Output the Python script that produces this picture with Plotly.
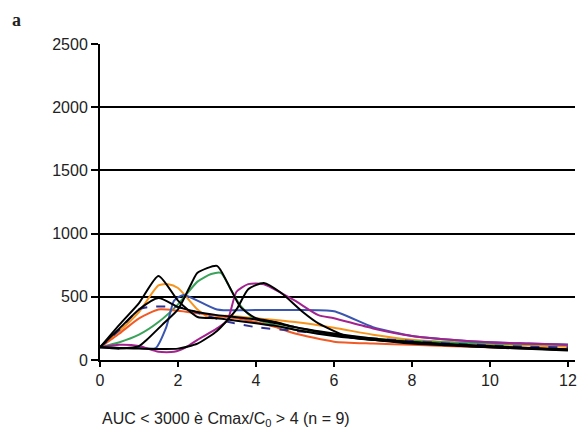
import plotly.graph_objects as go

# ---- data (hours vs concentration) ----
k1_t = [0, 0.5, 1, 1.5, 2, 2.5, 3, 3.5, 4, 4.5, 5, 6, 7, 8, 9, 10, 11, 12]
k1_v = [100, 280, 450, 665, 470, 340, 330, 310, 290, 270, 240, 190, 160, 140, 120, 105, 95, 85]

k2_t = [0, 0.5, 1, 1.5, 2, 2.5, 3, 4, 5, 6, 7, 8, 9, 10, 11, 12]
k2_v = [100, 250, 400, 490, 420, 380, 355, 320, 260, 200, 160, 130, 115, 100, 90, 80]

orange_t = [0, 0.5, 1, 1.5, 1.75, 2, 2.5, 2.85, 3.2, 4, 5, 6, 7, 8, 9, 10, 11, 12]
orange_v = [100, 230, 380, 590, 600, 570, 400, 330, 350, 330, 300, 255, 200, 160, 140, 125, 115, 105]

navy_t = [0, 0.5, 1, 1.3, 2, 2.7, 3.3, 4, 5, 6, 7, 8, 9, 10, 11, 12]
navy_v = [100, 240, 400, 420, 420, 355, 300, 260, 230, 200, 170, 150, 130, 115, 105, 100]

blue_t = [0, 0.5, 1, 1.43, 1.7, 1.9, 2.14, 3, 4, 5, 6, 7, 8, 9, 10, 11, 12]
blue_v = [100, 95, 95, 95, 260, 470, 515, 400, 395, 395, 385, 260, 190, 160, 140, 130, 120]

green_t = [0, 0.5, 1, 1.5, 2, 2.5, 2.85, 3.1, 3.35, 3.6, 3.9, 4.2, 5, 6, 7, 8, 10, 12]
green_v = [100, 140, 200, 300, 440, 620, 680, 690, 560, 430, 340, 300, 240, 200, 170, 150, 130, 120]

k3_t = [0, 0.5, 1, 1.2, 1.6, 2, 2.35, 2.5, 3, 3.27, 3.6, 4, 4.5, 5, 6, 7, 8, 9, 10, 12]
k3_v = [100, 90, 110, 160, 280, 400, 610, 690, 745, 610, 420, 330, 300, 260, 210, 170, 140, 120, 100, 75]

magenta_t = [0, 0.5, 1, 1.5, 1.9, 2.2, 2.5, 3, 3.27, 3.5, 3.8, 4.2, 4.65, 5, 5.6, 6, 7, 8, 9, 10, 11, 12]
magenta_v = [100, 120, 110, 65, 65, 100, 160, 250, 316, 540, 600, 600, 530, 470, 355, 330, 250, 190, 160, 140, 130, 120]

k4_t = [0, 1, 2, 2.5, 3, 3.5, 3.8, 4.2, 4.65, 5.2, 5.6, 6.4, 7, 8, 10, 12]
k4_v = [100, 90, 90, 130, 230, 400, 560, 610, 530, 380, 290, 180, 160, 140, 110, 80]

red_t = [0, 0.5, 1, 1.5, 2, 2.5, 3, 3.5, 4, 4.5, 5, 6, 7, 8, 10, 12]
red_v = [100, 210, 330, 400, 390, 370, 350, 330, 300, 260, 210, 145, 130, 120, 100, 85]

x_ticks = [0, 2, 4, 6, 8, 10, 12]
y_ticks = [0, 500, 1000, 1500, 2000, 2500]

series = [
    (orange_t, orange_v, "#F7941D", "solid"),
    (green_t, green_v, "#3AA35A", "solid"),
    (red_t, red_v, "#F15A24", "solid"),
    (navy_t, navy_v, "#2E3192", "dash"),
    (blue_t, blue_v, "#3A56B0", "solid"),
    (magenta_t, magenta_v, "#A3238E", "solid"),
    (k1_t, k1_v, "#000000", "solid"),
    (k2_t, k2_v, "#000000", "solid"),
    (k3_t, k3_v, "#000000", "solid"),
    (k4_t, k4_v, "#000000", "solid"),
]

fig = go.Figure()
for t, v, c, d in series:
    fig.add_trace(go.Scatter(x=t, y=v, mode="lines",
                             line=dict(color=c, width=2, dash=d, shape="spline", smoothing=0.6),
                             showlegend=False, hoverinfo="skip"))

font_main = dict(family="Liberation Sans, Arial, sans-serif", size=16, color="#222222")

fig.update_layout(
    width=578, height=422,
    margin=dict(l=92, r=9, t=36, b=70),
    paper_bgcolor="white", plot_bgcolor="white",
    font=font_main,
    xaxis=dict(range=[0, 12.18], tickvals=x_ticks, showgrid=False, zeroline=False,
               showline=True, linecolor="black", linewidth=2, ticklabeloverflow="allow",
               ticks="outside", ticklen=5, tickwidth=1.5, tickcolor="black"),
    yaxis=dict(range=[0, 2500], tickvals=y_ticks, showgrid=True, gridcolor="black", gridwidth=2,
               zeroline=False, showline=True, linecolor="black", linewidth=2,
               ticks="outside", ticklen=7, tickwidth=2, tickcolor="black"),
    annotations=[
        dict(text="AUC &lt; 3000 è Cmax/C<sub>0</sub> &gt; 4 (n = 9)", xref="paper", yref="paper",
             x=0, y=-0.188, xanchor="left", yanchor="middle", showarrow=False, font=font_main),
        dict(text="<b>a</b>", xref="paper", yref="paper", x=-0.176, y=1.076, xanchor="center",
             yanchor="middle", showarrow=False,
             font=dict(family="Liberation Serif, Times New Roman, serif", size=18, color="#222222")),
    ],
)

fig.write_html("out.html")
